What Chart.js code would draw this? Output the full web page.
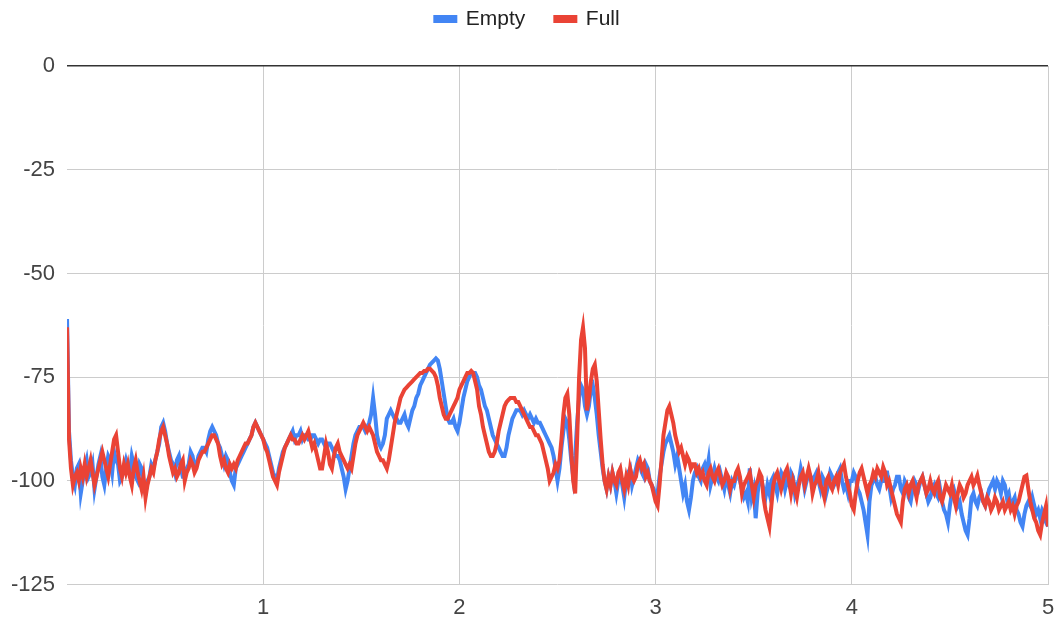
<!DOCTYPE html>
<html>
<head>
<meta charset="utf-8">
<script src="https://cdn.jsdelivr.net/npm/chart.js@4"></script>
<style>
  html, body { margin: 0; padding: 0; background: #fff; }
  #wrap { width: 1056px; height: 622px; }
</style>
</head>
<body>
<div id="wrap"><canvas id="myChart" width="1056" height="622"></canvas></div>
<script>
// frequency grid: 0 .. 5 in steps of 0.01 (one row below = 0.1)
var freqStart = 0;
var freqStep = 0.01;

var emptyValues = [
  -61, -88, -95, -99, -101, -97, -96, -103, -100, -97,
  -95, -99, -98, -96, -102, -99, -96, -94, -99, -101,
  -97, -94, -95, -98, -93, -95, -96, -100, -99, -97,
  -95, -97, -98, -94, -96, -99, -100, -96, -97, -101,
  -103, -100, -99, -96, -97, -95, -93, -91, -87, -86,
  -88, -91, -93, -95, -96, -98, -95, -94, -97, -99,
  -99, -97, -96, -93, -94, -97, -96, -94, -93, -92,
  -92, -93, -90, -88, -87, -88, -89, -91, -92, -94,
  -96, -94, -95, -98, -100, -101, -97, -96, -95, -94,
  -93, -92, -91, -90, -89, -87, -86, -87, -88, -89,
  -90, -91, -92, -94, -96, -98, -99, -100, -97, -95,
  -93, -92, -91, -90, -89, -88, -90, -89, -89, -88,
  -90, -89, -89, -90, -90, -89, -89, -90, -91, -90,
  -90, -91, -92, -91, -91, -92, -93, -94, -94, -95,
  -97, -99, -102, -100, -97, -94, -91, -89, -88, -87,
  -87, -87, -88, -87, -86, -84, -80, -84, -89, -91,
  -92, -91, -89, -85, -84, -83, -84, -85, -85, -86,
  -86, -85, -84, -86, -87, -85, -83, -82, -80, -79,
  -77, -76, -75, -74, -73, -72, -71.5, -71, -70.5, -71,
  -73, -76, -79, -82, -85, -86, -86, -85, -87, -88,
  -86, -83, -80, -78, -76, -75, -74, -74, -74, -75,
  -77, -78, -80, -82, -83, -85, -87, -89, -90, -91,
  -92, -93, -94, -94, -92, -89, -87, -85, -84, -83,
  -83, -83, -84, -83, -84, -85, -84, -85, -86, -85,
  -86, -86, -87, -88, -89, -90, -91, -92, -94, -97,
  -100, -97, -92, -88, -85, -86, -90, -95, -99, -94,
  -86, -80, -77, -78, -82, -84, -82, -78, -77, -80,
  -84, -89, -93, -97, -100, -102, -99, -101, -98, -100,
  -103, -100, -98, -101, -104, -100, -98, -97, -101, -99,
  -97, -95, -96, -98, -99, -96, -97, -100, -101, -102,
  -104, -103, -99, -96, -93, -91, -90, -89, -91, -93,
  -96, -94, -97, -100, -103, -101, -105, -107, -104, -100,
  -98, -97, -99, -100, -97, -96, -98, -95, -101, -99,
  -97, -99, -100, -98, -100, -102, -99, -101, -103, -100,
  -101, -99, -98, -100, -102, -104, -103, -105, -97, -104,
  -102, -109, -103, -99, -100, -102, -104, -101, -103, -100,
  -99, -101, -103, -100, -98, -99, -102, -100, -101, -98,
  -99, -103, -101, -100, -97, -99, -102, -100, -98, -99,
  -101, -99, -98, -100, -102, -99, -100, -103, -101, -98,
  -99, -101, -100, -98, -97, -100, -102, -101, -103, -100,
  -100, -98, -99, -102, -103, -105, -107, -110, -113, -105,
  -101, -100, -99, -101, -102, -100, -100, -98, -98, -101,
  -104, -102, -101, -99, -99, -102, -103, -100, -101, -104,
  -105, -102, -100, -101, -102, -100, -99, -101, -103, -105,
  -104, -102, -101, -103, -104, -102, -105, -107, -108, -110,
  -106, -103, -102, -104, -106, -105, -108, -110, -112, -113,
  -109, -104, -103, -105, -106, -104, -103, -105, -106, -104,
  -102, -101, -100, -102, -100, -101, -103, -100, -101, -104,
  -103, -106, -105, -104, -107, -108, -110, -111, -108, -106,
  -105, -106, -104, -106, -108, -107, -109, -107, -108, -110,
  -111
];

var fullValues = [
  -63, -90, -97, -101, -99, -98, -100, -97, -99, -96,
  -99, -97, -95, -98, -101, -99, -97, -95, -93, -95,
  -97, -99, -96, -93, -90, -89, -93, -97, -99, -96,
  -98, -96, -99, -101, -97, -95, -98, -100, -102, -99,
  -104, -101, -99, -97, -98, -95, -93, -90, -88, -87,
  -89, -91, -94, -96, -98, -97, -99, -98, -96, -95,
  -100, -98, -97, -95, -96, -98, -97, -95, -94, -93,
  -93, -92, -91, -90, -89, -89, -90, -91, -94, -96,
  -95, -97, -98, -96, -97, -96, -97, -95, -94, -93,
  -92, -91, -91, -90, -89, -87, -86, -87, -88, -89,
  -90, -92, -93, -95, -97, -99, -100, -101, -98, -96,
  -94, -92, -91, -90, -89, -90, -90, -91, -91, -90,
  -89, -90, -89, -88, -90, -92, -91, -93, -95, -97,
  -97, -94, -91, -93, -96, -97, -94, -92, -91, -93,
  -94, -95, -96, -97, -96, -97, -94, -91, -89, -88,
  -87, -86, -87, -88, -87, -88, -89, -91, -93, -94,
  -95, -95, -96, -97, -95, -92, -89, -86, -84, -82,
  -80, -79, -78, -77.5, -77, -76.5, -76, -75.5, -75, -74.5,
  -74, -74, -73.5, -73.5, -73, -73, -73.5, -74, -75, -77,
  -80, -82, -84, -85, -85, -84, -83, -82, -81, -80,
  -78, -77, -76, -75, -74, -74, -73.5, -74, -76, -78,
  -82, -84, -87, -89, -91, -93, -94, -94, -93, -91,
  -88, -86, -84, -82, -81, -80.5, -80, -80, -80, -81,
  -81, -82, -83, -84, -85, -86, -87, -87, -88, -89,
  -89, -90, -91, -93, -95, -97, -100, -99, -98, -96,
  -97, -95, -90, -84, -80, -79, -84, -93, -100, -103,
  -90, -75, -66, -63, -68, -83, -80, -76, -73, -72,
  -76, -83, -90, -96, -100, -102, -99, -101, -98, -100,
  -101, -98, -97, -100, -102, -99, -101, -97, -99, -100,
  -99, -96, -95, -97, -96, -99, -98, -100, -101, -103,
  -105, -106, -101, -95, -89, -86, -83, -82, -84, -86,
  -89, -91, -93, -92, -94, -96, -94, -95, -97, -96,
  -96, -98, -97, -99, -98, -100, -101, -98, -97, -99,
  -100, -98, -97, -99, -101, -100, -98, -99, -102, -100,
  -100, -98, -97, -99, -103, -101, -100, -99, -98, -101,
  -104, -101, -100, -98, -99, -104, -107, -109, -111, -106,
  -101, -99, -98, -100, -102, -100, -98, -97, -100, -103,
  -100, -102, -104, -101, -99, -98, -101, -99, -97, -99,
  -103, -101, -100, -98, -101, -102, -104, -100, -99, -101,
  -102, -100, -99, -101, -98, -97, -96, -99, -101, -103,
  -106, -107, -103, -100, -98, -97, -99, -101, -103, -101,
  -100, -98, -99, -97, -98, -99, -96.7, -98, -101, -100,
  -102, -104, -106, -108, -109, -110, -105, -102, -101, -103,
  -101, -100, -102, -104, -101, -100, -99, -101, -103, -102,
  -100, -102, -103, -101, -100, -104, -105, -103, -101, -102,
  -103, -101, -104, -106, -103, -101, -102, -104, -103, -101,
  -100, -99, -101, -100, -98.7, -101, -103, -105, -106, -104,
  -105, -107, -106, -104, -105, -107, -106, -105, -107, -106,
  -105, -107, -106, -108, -106, -105, -103, -101, -99, -98.7,
  -102, -105, -107, -109, -110, -112, -113, -110, -108, -106,
  -111
];

var yTicks = [0, -25, -50, -75, -100, -125];
var xTicks = [1, 2, 3, 4, 5];

function toPoints(values) {
  return values.map(function (v, i) {
    return { x: +(freqStart + i * freqStep).toFixed(2), y: v };
  });
}

// move the legend row up, closer to the top edge
var legendShift = {
  id: 'legendShift',
  afterLayout: function (chart) {
    if (chart.legend) chart.legend.top = -21.5;
  }
};

Chart.defaults.font.family = "'Liberation Sans', Arial, sans-serif";
Chart.defaults.font.size = 22;
Chart.defaults.color = '#444';

var ctx = document.getElementById('myChart');
var myChart = new Chart(ctx, {
  type: 'line',
  data: {
    datasets: [
      {
        label: 'Empty',
        data: toPoints(emptyValues),
        borderColor: '#4285F4',
        backgroundColor: '#4285F4',
        borderWidth: 4,
        pointRadius: 0,
        order: 1
      },
      {
        label: 'Full',
        data: toPoints(fullValues),
        borderColor: '#EA4335',
        backgroundColor: '#EA4335',
        borderWidth: 4,
        pointRadius: 0,
        order: 0
      }
    ]
  },
  plugins: [legendShift],
  options: {
    responsive: false,
    animation: false,
    layout: { padding: { left: -1, right: 0, top: 5, bottom: -9 } },
    plugins: {
      tooltip: { enabled: false },
      legend: {
        position: 'top',
        labels: {
          boxWidth: 20,
          boxHeight: 4,
          padding: 30,
          color: '#222',
          font: { size: 21 },
          sort: function (a, b) { return a.datasetIndex - b.datasetIndex; }
        }
      }
    },
    scales: {
      x: {
        type: 'linear',
        min: 0,
        max: 5,
        border: { display: false },
        grid: {
          drawTicks: false,
          color: function (c) { return c.tick && xTicks.indexOf(c.tick.value) >= 0 ? '#ccc' : 'rgba(0,0,0,0)'; }
        },
        ticks: {
          stepSize: 1,
          padding: 10,
          maxRotation: 0,
          callback: function (v) { return xTicks.indexOf(v) >= 0 ? v : ''; }
        },
        afterFit: function (scale) {
          scale.paddingRight = 8;
        }
      },
      y: {
        min: -125,
        max: 0,
        border: { display: false },
        grid: {
          drawTicks: false,
          color: function (c) { return c.tick && c.tick.value === 0 ? '#333' : '#ccc'; },
          lineWidth: function (c) { return c.tick && c.tick.value === 0 ? 1.5 : 1; }
        },
        afterBuildTicks: function (axis) {
          axis.ticks = yTicks.map(function (v) { return { value: v }; });
        },
        ticks: { padding: 12 }
      }
    }
  }
});
</script>
</body>
</html>
